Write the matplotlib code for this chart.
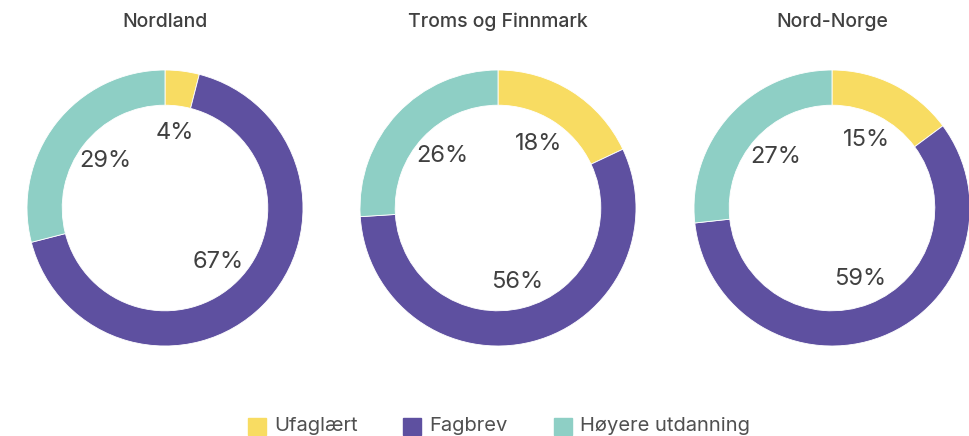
import matplotlib.pyplot as plt
import numpy as np
from matplotlib.patches import Rectangle

regions = ["Nordland", "Troms og Finnmark", "Nord-Norge"]
categories = ["Ufaglært", "Fagbrev", "Høyere utdanning"]
ufaglaert = [4, 18, 15]
fagbrev = [67, 56, 59]
hoyere = [29, 26, 27]
colors = ["#F8DC62", "#5E50A0", "#8ECFC5"]

plt.rcParams['font.family'] = ['Inter', 'DejaVu Sans']

W, H = 969, 436
fig = plt.figure(figsize=(W / 100, H / 100), dpi=100)

centers_x = [165, 498, 832]
cy = 208
R = 138
for i, name in enumerate(regions):
    cx = centers_x[i]
    ax = fig.add_axes([(cx - R) / W, (H - cy - R) / H, 2 * R / W, 2 * R / H])
    vals = [ufaglaert[i], fagbrev[i], hoyere[i]]
    wedges, texts = ax.pie(
        vals, colors=colors, startangle=90, counterclock=False,
        wedgeprops=dict(width=0.255, edgecolor='white', linewidth=0.6))
    for w, v in zip(wedges, vals):
        ang = np.deg2rad((w.theta1 + w.theta2) / 2)
        ax.text(0.55 * np.cos(ang), 0.55 * np.sin(ang), f"{v}%",
                ha='center', va='center', fontsize=17, color='#404040')
    ax.set_xlim(-1, 1)
    ax.set_ylim(-1, 1)
    ax.set_aspect('equal')
    ax.axis('off')
    fig.text(cx / W, 1 - 22 / H, name, ha='center', va='center',
             fontsize=14, fontweight='medium', color='#404040')

legend_x = [248, 403, 554]
for i, cat in enumerate(categories):
    fig.patches.append(Rectangle((legend_x[i] / W, (H - 435) / H), 18 / W, 17 / H,
                                 transform=fig.transFigure, color=colors[i]))
    fig.text((legend_x[i] + 26) / W, 1 - 426 / H, cat, ha='left', va='center',
             fontsize=14.5, color='#505050')

fig.savefig('out.png', dpi=100, facecolor='white')
